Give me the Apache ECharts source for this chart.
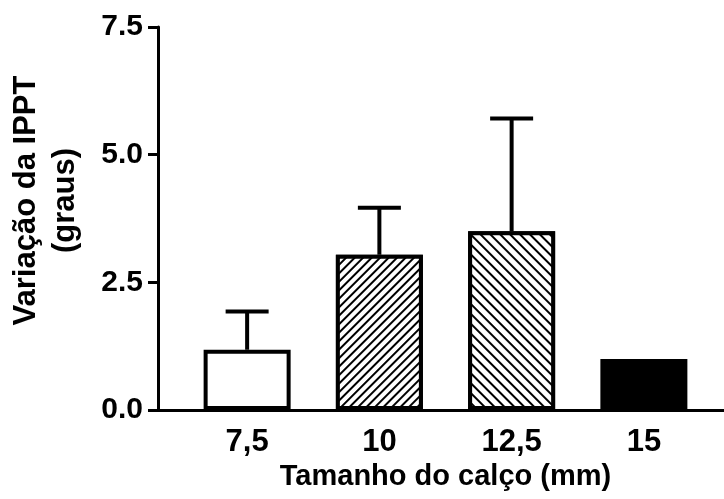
<!DOCTYPE html>
<html>
<head>
<meta charset="utf-8">
<script src="https://cdn.jsdelivr.net/npm/echarts@6/dist/echarts.min.js"></script>
<style>
  html, body { margin: 0; padding: 0; background: #fff; }
  #chart { width: 724px; height: 499px; }
</style>
</head>
<body>
<div id="chart"></div>
<script>
// ---- data ----
const categories = ['7,5', '10', '12,5', '15'];
const means = [1.18, 3.04, 3.50, 1.00];
const errors = [0.75, 0.92, 2.21, 0];
const yTicks = [0, 2.5, 5, 7.5];
const xTitle = 'Tamanho do calço (mm)';
const yTitle = 'Variação da IPPT\n(graus)';

// ---- styles ----
const FONT = "'Liberation Sans', Arial, Helvetica, sans-serif";
const fills = [
  { color: '#fff' },
  { color: '#fff', decal: { symbol: 'rect', symbolSize: 1, dashArrayX: [1, 0], dashArrayY: [1.2, 3.8], rotation: -Math.PI / 4, color: '#000', backgroundColor: '#fff' } },
  { color: '#fff', decal: { symbol: 'rect', symbolSize: 1, dashArrayX: [1, 0], dashArrayY: [1.3, 4.7], rotation: Math.PI / 4, color: '#000', backgroundColor: '#fff' } },
  { color: '#000' }
];

const barData = means.map((v, i) => ({
  value: v,
  itemStyle: Object.assign({ borderColor: '#000', borderWidth: 4 }, fills[i])
}));
const errData = means.map((v, i) => [i, v, errors[i]]);

const chart = echarts.init(document.getElementById('chart'), null, { renderer: 'canvas' });
chart.setOption({
  backgroundColor: '#fff',
  animation: false,
  grid: [
    { left: 181, right: 14, top: 27, bottom: 89, containLabel: false, outerBoundsMode: 'none' },
    { left: 158, right: 0, top: 27, bottom: 89, containLabel: false, outerBoundsMode: 'none' }
  ],
  xAxis: [
    {
      type: 'category',
      gridIndex: 0,
      data: categories,
      axisLine: { show: false },
      axisTick: { show: false },
      axisLabel: { color: '#000', fontFamily: FONT, fontWeight: 'bold', fontSize: 31, margin: 17 },
      name: xTitle,
      nameLocation: 'middle',
      nameGap: 50,
      nameTextStyle: { color: '#000', fontFamily: FONT, fontWeight: 'bold', fontSize: 29 }
    },
    {
      type: 'value',
      gridIndex: 1,
      min: 0, max: 1,
      axisLine: { show: true, onZero: false, lineStyle: { color: '#000', width: 3 } },
      axisTick: { show: false },
      axisLabel: { show: false },
      splitLine: { show: false }
    }
  ],
  yAxis: [
    {
      type: 'value',
      gridIndex: 0,
      min: yTicks[0],
      max: yTicks[yTicks.length - 1],
      interval: yTicks[1] - yTicks[0],
      offset: 23,
      axisLine: { show: true, lineStyle: { color: '#000', width: 3 } },
      axisTick: { show: true, length: 10, lineStyle: { color: '#000', width: 3 } },
      splitLine: { show: false },
      axisLabel: {
        color: '#000', fontFamily: FONT, fontWeight: 'bold', fontSize: 30, margin: 15,
        formatter: v => v.toFixed(1)
      },
      name: yTitle,
      nameLocation: 'middle',
      nameRotate: 90,
      nameGap: 73,
      nameTextStyle: {
        color: '#000', fontFamily: FONT, fontWeight: 'bold', fontSize: 31,
        lineHeight: 39, align: 'center', padding: [0, 0, 0, 36]
      }
    },
    {
      type: 'value',
      gridIndex: 1,
      min: 0, max: 1,
      show: false
    }
  ],
  series: [
    {
      type: 'bar',
      xAxisIndex: 0,
      yAxisIndex: 0,
      data: barData,
      barWidth: 87,
      z: 2
    },
    {
      type: 'custom',
      xAxisIndex: 0,
      yAxisIndex: 0,
      data: errData,
      encode: { x: 0, y: 1 },
      z: 3,
      renderItem: function (params, api) {
        const idx = api.value(0), m = api.value(1), e = api.value(2);
        if (!e) return null;
        const p0 = api.coord([idx, m]);
        const p1 = api.coord([idx, m + e]);
        const hw = 21.5;
        const st = { stroke: '#000', lineWidth: 4 };
        return {
          type: 'group',
          children: [
            { type: 'line', shape: { x1: p0[0], y1: p0[1], x2: p1[0], y2: p1[1] }, style: st },
            { type: 'line', shape: { x1: p1[0] - hw, y1: p1[1], x2: p1[0] + hw, y2: p1[1] }, style: st }
          ]
        };
      }
    }
  ]
});
</script>
</body>
</html>
